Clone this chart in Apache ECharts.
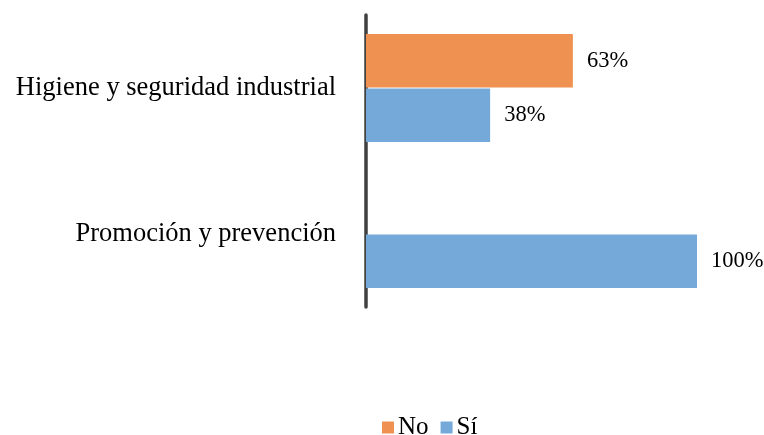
<!DOCTYPE html>
<html>
<head>
<meta charset="utf-8">
<script src="https://cdn.jsdelivr.net/npm/echarts@6/dist/echarts.min.js"></script>
<style>html,body{margin:0;padding:0;background:#fff;}#chart{width:764px;height:435px;}</style>
</head>
<body>
<div id="chart"></div>
<script>
const categories = ['Higiene y seguridad industrial', 'Promoción y prevención'];
const seriesNames = ['No', 'Sí'];
const noValues = [62.5, null];
const siValues = [37.5, 100];

const FONT = '"Liberation Serif", "Times New Roman", serif';
const chart = echarts.init(document.getElementById('chart'));
const labelOpt = {
  show: true, position: 'right', distance: 14,
  formatter: p => Math.round(p.value) + '%',
  color: '#000', fontFamily: FONT, fontSize: 22.5
};
chart.setOption({
  animation: false,
  grid: { left: 366, right: 67, top: 15, bottom: 128, containLabel: false },
  legend: {
    top: 410, left: 377,
    data: seriesNames,
    icon: 'rect', itemWidth: 12, itemHeight: 12, itemGap: 12,
    itemStyle: { borderWidth: 0 },
    textStyle: { color: '#000', fontFamily: FONT, fontSize: 25, padding: [0, 0, 0, -1] }
  },
  xAxis: {
    type: 'value', min: 0, max: 100,
    show: false
  },
  yAxis: {
    type: 'category', data: categories, inverse: true,
    axisLine: { show: true, lineStyle: { color: '#404040', width: 3.5 } },
    axisTick: { show: false },
    axisLabel: { color: '#000', fontFamily: FONT, fontSize: 26.5, margin: 30 }
  },
  series: [
    { name: seriesNames[0], type: 'bar', data: noValues, barGap: '2%', barCategoryGap: '26%',
      itemStyle: { color: '#EF9251' }, label: labelOpt },
    { name: seriesNames[1], type: 'bar', data: siValues, barGap: '2%', barCategoryGap: '26%',
      itemStyle: { color: '#75A9DA' }, label: labelOpt }
  ]
});
</script>
</body>
</html>
